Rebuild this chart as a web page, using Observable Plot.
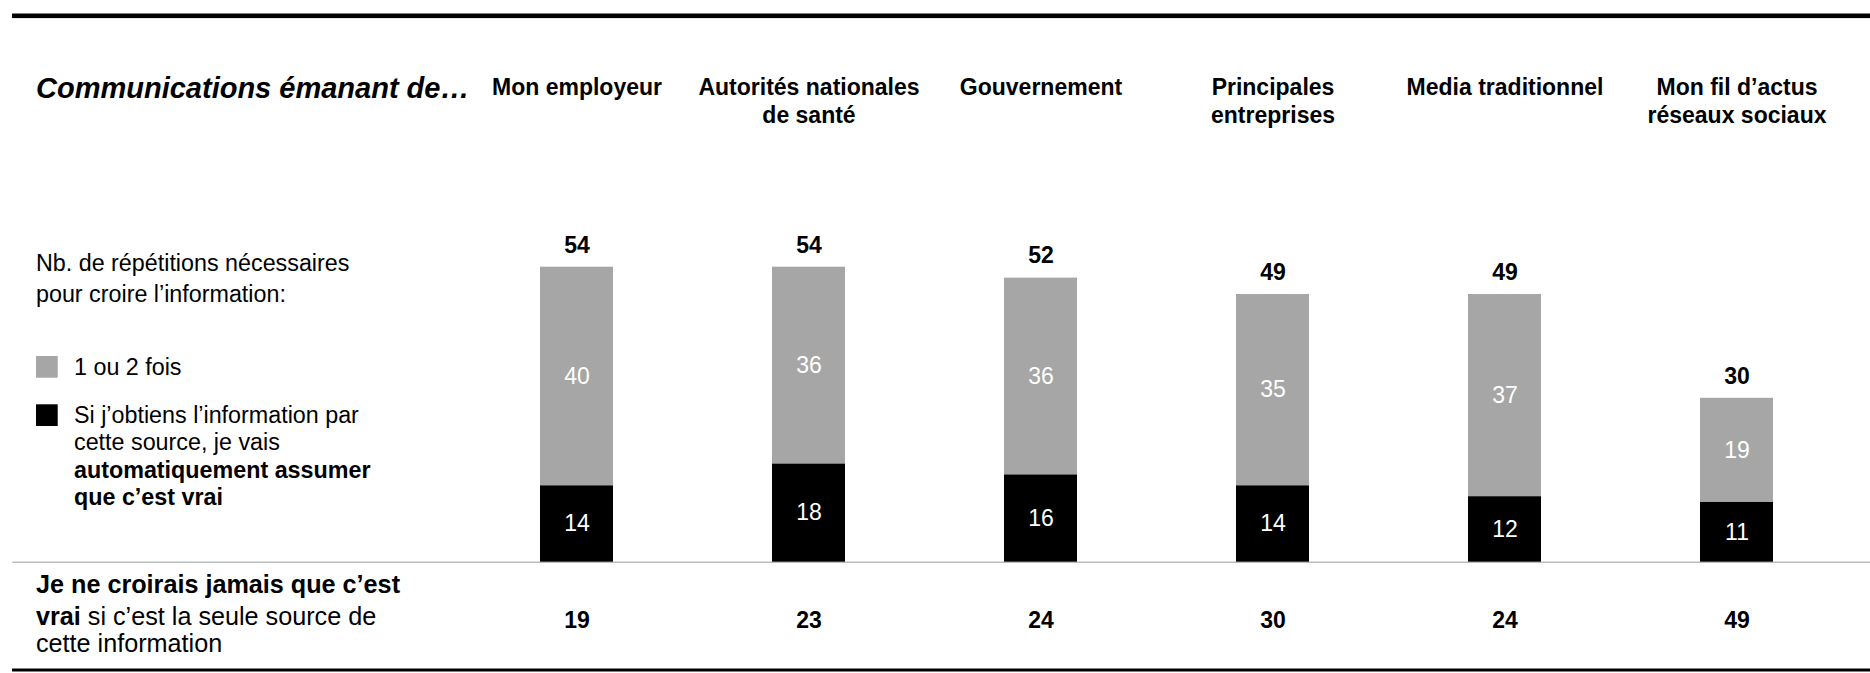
<!DOCTYPE html>
<html>
<head>
<meta charset="utf-8">
<script src="https://cdn.jsdelivr.net/npm/d3@7"></script>
<script src="https://cdn.jsdelivr.net/npm/@observablehq/plot@0.6"></script>
<style>
  html, body { margin: 0; padding: 0; background: #fff; }
  #chart { width: 1870px; height: 673px; position: relative; }
  svg { display: block; }
</style>
</head>
<body>
<div id="chart"></div>
<script>
// ---- data ----
const sources = ["Mon employeur", "Autorités nationales de santé", "Gouvernement", "Principales entreprises", "Media traditionnel", "Mon fil d’actus réseaux sociaux"];
const headerLabels = ["Mon employeur", "Autorités nationales\nde santé", "Gouvernement", "Principales\nentreprises", "Media traditionnel", "Mon fil d’actus\nréseaux sociaux"];
const autoTrue = [14, 18, 16, 14, 12, 11];      // black: assume it's true automatically
const onceTwice = [40, 36, 36, 35, 37, 19];     // gray: 1 ou 2 fois
const totals = [54, 54, 52, 49, 49, 30];
const neverTrue = [19, 23, 24, 30, 24, 49];
const seriesNames = ["Automatiquement vrai", "1 ou 2 fois"];
const seriesColors = ["#000000", "#a6a6a6"];

const FONT = '"Liberation Sans", Arial, Helvetica, sans-serif';

const stacked = [];
sources.forEach((s, i) => {
  stacked.push({source: s, series: seriesNames[0], value: autoTrue[i]});
  stacked.push({source: s, series: seriesNames[1], value: onceTwice[i]});
});
const cols = sources.map((s, i) => ({source: s, header: headerLabels[i], total: totals[i], never: neverTrue[i]}));

const W = 1870, H = 673;
const plot = Plot.plot({
  width: W,
  height: H,
  marginLeft: 458.3,
  marginRight: 16.1,
  marginTop: 266.7,
  marginBottom: 111.3,
  style: {fontFamily: FONT, background: "#fff", color: "#000"},
  x: {type: "band", domain: sources, paddingInner: 0.686, paddingOuter: 0.343, axis: null},
  y: {domain: [0, 54], axis: null},
  color: {domain: seriesNames, range: seriesColors},
  marks: [
    Plot.ruleY([0], {stroke: "#b9bfbf", strokeWidth: 1.6, insetLeft: -446, insetRight: -16.1}),
    Plot.barY(stacked, {x: "source", y: "value", fill: "series"}),
    Plot.text(stacked, Plot.stackY({x: "source", y: "value", text: "value", fill: "#fff", fontSize: 23, lineAnchor: "middle"})),
    Plot.text(cols, {x: "source", y: "total", text: "total", fontSize: 23, fontWeight: "bold", fill: "#000", lineAnchor: "bottom", dy: -14.7}),
    Plot.text(cols, {x: "source", text: "header", frameAnchor: "top", lineAnchor: "top", lineHeight: 1.25, fontSize: 23, fontWeight: "bold", fill: "#000", dy: -193.1}),
    Plot.text(cols, {x: "source", text: "never", frameAnchor: "bottom", lineAnchor: "bottom", fontSize: 23, fontWeight: "bold", fill: "#000", dy: 65.3})
  ]
});
document.getElementById("chart").appendChild(plot);

// ---- decorative rules and left-hand annotations ----
const svg = d3.select(plot);
const g = svg.append("g").attr("font-family", FONT).attr("fill", "#000").attr("text-anchor", "start");
g.append("rect").attr("x", 12).attr("y", 13.5).attr("width", W - 12).attr("height", 4.6).attr("fill", "#000");
g.append("rect").attr("x", 12).attr("y", 668.5).attr("width", W - 12).attr("height", 3).attr("fill", "#000");

g.append("text").attr("x", 36).attr("y", 98).attr("font-size", 29).attr("font-weight", "bold").attr("font-style", "italic")
  .attr("text-anchor", "start").text("Communications émanant de…");

function line(x, y, size, parts) {
  const t = g.append("text").attr("x", x).attr("y", y).attr("font-size", size).attr("text-anchor", "start");
  parts.forEach(([txt, bold]) => t.append("tspan").attr("font-weight", bold ? "bold" : "normal").text(txt));
}
line(36, 271, 23.3, [["Nb. de répétitions nécessaires", false]]);
line(36, 302, 23.3, [["pour croire l’information:", false]]);

g.append("rect").attr("x", 36).attr("y", 356).attr("width", 21.7).attr("height", 21.7).attr("fill", seriesColors[1]);
line(74, 375, 23.3, [["1 ou 2 fois", false]]);

g.append("rect").attr("x", 36).attr("y", 404.3).attr("width", 21.7).attr("height", 21.7).attr("fill", seriesColors[0]);
line(74, 423, 23.3, [["Si j’obtiens l’information par", false]]);
line(74, 450, 23.3, [["cette source, je vais", false]]);
line(74, 477.5, 23.3, [["automatiquement assumer", true]]);
line(74, 505, 23.3, [["que c’est vrai", true]]);

line(36, 593, 25.2, [["Je ne croirais jamais que c’est", true]]);
line(36, 625, 25.2, [["vrai", true], [" si c’est la seule source de", false]]);
line(36, 652, 25.2, [["cette information", false]]);
</script>
</body>
</html>
